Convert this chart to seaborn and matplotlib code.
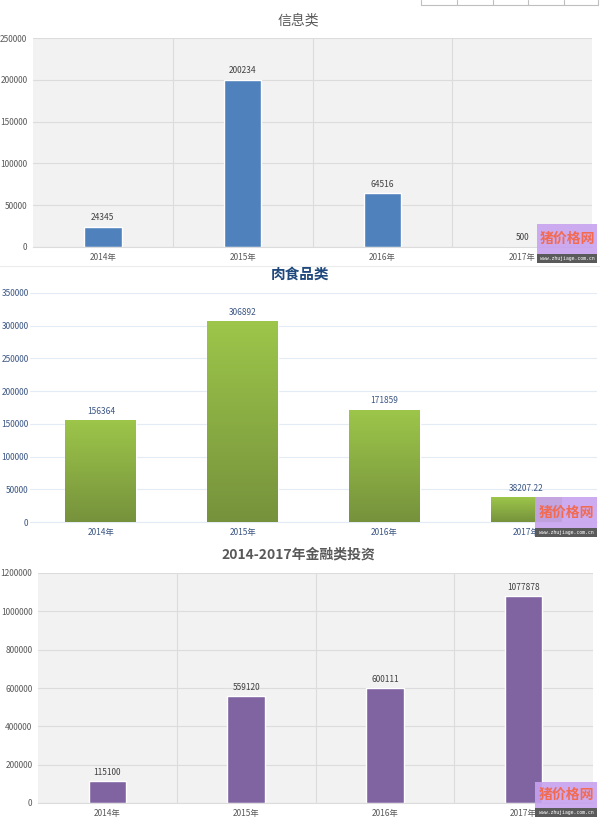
import numpy as np
import matplotlib
matplotlib.use("Agg")
import matplotlib.pyplot as plt
import seaborn as sns
from matplotlib.patches import Rectangle
from matplotlib.lines import Line2D

# Data
years = ['2014年', '2015年', '2016年', '2017年']
info_vals = [24345, 200234, 64516, 500]
meat_vals = [156364, 306892, 171859, 38207.22]
fin_vals = [115100, 559120, 600111, 1077878]

W, H = 600, 817

sns.set_theme(style="white")
plt.rcParams['font.family'] = ['Noto Sans CJK SC', 'DejaVu Sans']

fig = plt.figure(figsize=(W / 100, H / 100), dpi=100)


def px_axes(x0, y0, x1, y1):
    # pixel box (top-left origin) -> axes
    return fig.add_axes([x0 / W, 1 - y1 / H, (x1 - x0) / W, (y1 - y0) / H])


def fmt(v):
    return f"{v:.2f}".rstrip('0').rstrip('.')


def style_axis(ax, ymax, step, tick_color, grid_color, face, vgrid, ypad=4):
    ax.set_xlim(-0.5, 3.5)
    ax.set_ylim(0, ymax)
    ax.set_yticks(np.arange(0, ymax + 1, step))
    ax.set_yticklabels([str(int(t)) for t in np.arange(0, ymax + 1, step)])
    ax.set_facecolor(face)
    ax.set_xlabel('')
    ax.set_ylabel('')
    ax.tick_params(axis='both', length=0, labelsize=6, colors=tick_color, pad=4)
    ax.tick_params(axis='y', pad=ypad)
    ax.grid(axis='y', color=grid_color, linewidth=0.8)
    if vgrid:
        ax.set_xticks([0.5, 1.5, 2.5], minor=True)
        ax.grid(axis='x', which='minor', color=grid_color, linewidth=0.8)
        ax.tick_params(axis='x', which='minor', length=0)
    ax.set_axisbelow(True)
    for s in ['top', 'right', 'left']:
        ax.spines[s].set_visible(False)
    ax.spines['bottom'].set_color(grid_color)
    ax.spines['bottom'].set_linewidth(0.8)


def watermark(x0, y0, x1, y1):
    fig.add_artist(Rectangle((x0 / W, 1 - y1 / H), (x1 - x0) / W, (y1 - y0) / H,
                             transform=fig.transFigure, facecolor='#c8a2f0',
                             edgecolor='none', alpha=0.9, zorder=10))
    strip = 9
    fig.add_artist(Rectangle((x0 / W, 1 - y1 / H), (x1 - x0) / W, strip / H,
                             transform=fig.transFigure, facecolor='#5a5a5a',
                             edgecolor='none', zorder=11))
    fig.text((x0 + x1) / 2 / W, 1 - (y0 + (y1 - y0 - strip) / 2) / H, '猪价格网',
             ha='center', va='center', fontsize=10, fontweight='bold',
             color='#f26a4f', zorder=12)
    fig.text((x0 + x1) / 2 / W, 1 - (y1 - strip / 2) / H, 'www.zhujiage.com.cn',
             ha='center', va='center', fontsize=3.5, color='white',
             family='DejaVu Sans Mono', zorder=12)


# ---------------- Panel 1: 信息类 ----------------
ax1 = px_axes(33, 38, 592, 247)
sns.barplot(x=years, y=info_vals, color='#4f81bd', saturation=1, width=0.27, ax=ax1)
style_axis(ax1, 250000, 50000, '#595959', '#dcdcdc', '#f2f2f2', True)
ax1.bar_label(ax1.containers[0], labels=[fmt(v) for v in info_vals],
              padding=3, fontsize=6, color='#404040')
fig.text(298 / W, 1 - 20 / H, '信息类', ha='center', va='center',
         fontsize=10, color='#595959')

# ---------------- Panel 2: 肉食品类 ----------------
ax2 = px_axes(30, 293, 597, 522)
sns.barplot(x=years, y=meat_vals, color='#8db040', saturation=1, width=0.5, ax=ax2)
style_axis(ax2, 350000, 50000, '#3b5683', '#e3ebf5', 'white', False, ypad=1)
grad = np.linspace(0, 1, 256).reshape(-1, 1)
cmap = matplotlib.colors.LinearSegmentedColormap.from_list('g', ['#76923c', '#9dc64a'])
for p in ax2.patches:
    x, w, h = p.get_x(), p.get_width(), p.get_height()
    im = ax2.imshow(grad, extent=[x, x + w, 0, h], origin='lower', aspect='auto',
                    cmap=cmap, zorder=3)
    im.set_clip_path(p)
ax2.set_xlim(-0.5, 3.5)
ax2.set_ylim(0, 350000)
ax2.bar_label(ax2.containers[0], labels=[fmt(v) for v in meat_vals],
              padding=3, fontsize=6, color='#3b5683')
fig.text(300 / W, 1 - 274 / H, '肉食品类', ha='center', va='center',
         fontsize=10.5, fontweight='bold', color='#1f497d')

# ---------------- Panel 3: 金融类投资 ----------------
ax3 = px_axes(38, 573, 593, 803)
sns.barplot(x=years, y=fin_vals, color='#8064a2', saturation=1, width=0.27, ax=ax3)
style_axis(ax3, 1200000, 200000, '#595959', '#dcdcdc', '#f2f2f2', True)
ax3.bar_label(ax3.containers[0], labels=[fmt(v) for v in fin_vals],
              padding=3, fontsize=6, color='#404040')
fig.text(298 / W, 1 - 555 / H, '2014-2017年金融类投资', ha='center', va='center',
         fontsize=10, fontweight='bold', color='#595959')

# ---------------- decorations ----------------
# table fragment at top right
for xp in [421, 457, 493, 528, 564, 598]:
    fig.add_artist(Line2D([xp / W, xp / W], [1, 1 - 5 / H], transform=fig.transFigure,
                          color='#bfbfbf', linewidth=0.8))
fig.add_artist(Line2D([421 / W, 598 / W], [1 - 5 / H, 1 - 5 / H], transform=fig.transFigure,
                      color='#bfbfbf', linewidth=0.8))
fig.add_artist(Line2D([0, 1], [1 - 266 / H, 1 - 266 / H], transform=fig.transFigure,
                      color='#ececec', linewidth=0.8))

watermark(537, 224, 597, 263)
watermark(535, 497, 597, 537)
watermark(535, 782, 597, 817)

fig.savefig('out.png', dpi=100)
